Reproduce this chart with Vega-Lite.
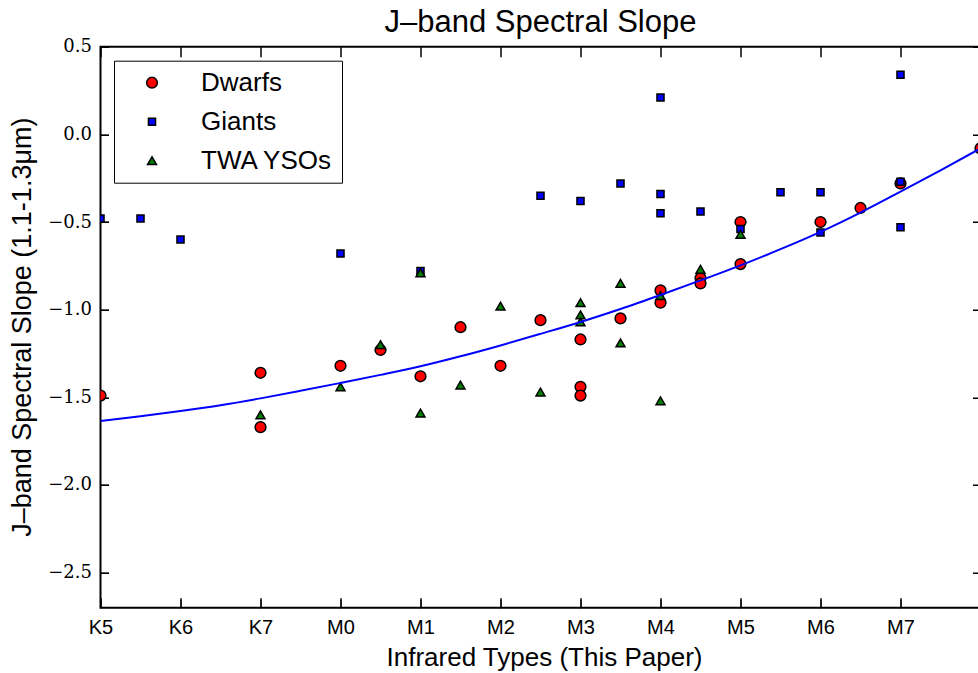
{
  "$schema": "https://vega.github.io/schema/vega-lite/v6.json",
  "width": 880,
  "height": 561,
  "autosize": "none",
  "padding": {"left": 100.5, "top": 46.7, "right": 0, "bottom": 65.3},
  "background": "white",
  "config": {
    "view": {"stroke": "#000", "strokeWidth": 2},
    "font": "Liberation Sans",
    "axis": {"domain": false, "tickColor": "#000", "tickWidth": 1, "grid": true, "gridColor": "#000", "gridWidth": 1.5, "gridOpacity": 1}
  },
  "title": {"text": "J–band Spectral Slope", "fontSize": 31, "font": "Liberation Sans", "fontWeight": "normal", "offset": 5, "dy": 6, "color": "#000"},
  "datasets": {
    "points": [
      {"type": 0, "slope": -1.49, "group": "Dwarfs"},
      {"type": 2, "slope": -1.36, "group": "Dwarfs"},
      {"type": 2, "slope": -1.67, "group": "Dwarfs"},
      {"type": 3, "slope": -1.32, "group": "Dwarfs"},
      {"type": 3.5, "slope": -1.23, "group": "Dwarfs"},
      {"type": 4, "slope": -1.38, "group": "Dwarfs"},
      {"type": 4.5, "slope": -1.1, "group": "Dwarfs"},
      {"type": 5, "slope": -1.32, "group": "Dwarfs"},
      {"type": 5.5, "slope": -1.06, "group": "Dwarfs"},
      {"type": 6, "slope": -1.17, "group": "Dwarfs"},
      {"type": 6, "slope": -1.44, "group": "Dwarfs"},
      {"type": 6, "slope": -1.49, "group": "Dwarfs"},
      {"type": 6.5, "slope": -1.05, "group": "Dwarfs"},
      {"type": 7, "slope": -0.89, "group": "Dwarfs"},
      {"type": 7, "slope": -0.96, "group": "Dwarfs"},
      {"type": 7.5, "slope": -0.82, "group": "Dwarfs"},
      {"type": 7.5, "slope": -0.85, "group": "Dwarfs"},
      {"type": 8, "slope": -0.5, "group": "Dwarfs"},
      {"type": 8, "slope": -0.74, "group": "Dwarfs"},
      {"type": 9, "slope": -0.5, "group": "Dwarfs"},
      {"type": 9.5, "slope": -0.42, "group": "Dwarfs"},
      {"type": 10, "slope": -0.28, "group": "Dwarfs"},
      {"type": 11, "slope": -0.08, "group": "Dwarfs"},
      {"type": 0, "slope": -0.48, "group": "Giants"},
      {"type": 0.5, "slope": -0.48, "group": "Giants"},
      {"type": 1, "slope": -0.6, "group": "Giants"},
      {"type": 3, "slope": -0.68, "group": "Giants"},
      {"type": 4, "slope": -0.78, "group": "Giants"},
      {"type": 5.5, "slope": -0.35, "group": "Giants"},
      {"type": 6, "slope": -0.38, "group": "Giants"},
      {"type": 6.5, "slope": -0.28, "group": "Giants"},
      {"type": 7, "slope": 0.21, "group": "Giants"},
      {"type": 7, "slope": -0.34, "group": "Giants"},
      {"type": 7, "slope": -0.45, "group": "Giants"},
      {"type": 7.5, "slope": -0.44, "group": "Giants"},
      {"type": 8, "slope": -0.54, "group": "Giants"},
      {"type": 8.5, "slope": -0.33, "group": "Giants"},
      {"type": 9, "slope": -0.33, "group": "Giants"},
      {"type": 9, "slope": -0.56, "group": "Giants"},
      {"type": 10, "slope": 0.34, "group": "Giants"},
      {"type": 10, "slope": -0.27, "group": "Giants"},
      {"type": 10, "slope": -0.53, "group": "Giants"},
      {"type": 2, "slope": -1.6, "group": "TWA YSOs"},
      {"type": 3, "slope": -1.44, "group": "TWA YSOs"},
      {"type": 3.5, "slope": -1.2, "group": "TWA YSOs"},
      {"type": 4, "slope": -0.79, "group": "TWA YSOs"},
      {"type": 4, "slope": -1.59, "group": "TWA YSOs"},
      {"type": 4.5, "slope": -1.43, "group": "TWA YSOs"},
      {"type": 5, "slope": -0.98, "group": "TWA YSOs"},
      {"type": 5.5, "slope": -1.47, "group": "TWA YSOs"},
      {"type": 6, "slope": -0.96, "group": "TWA YSOs"},
      {"type": 6, "slope": -1.03, "group": "TWA YSOs"},
      {"type": 6, "slope": -1.07, "group": "TWA YSOs"},
      {"type": 6.5, "slope": -0.85, "group": "TWA YSOs"},
      {"type": 6.5, "slope": -1.19, "group": "TWA YSOs"},
      {"type": 7, "slope": -0.92, "group": "TWA YSOs"},
      {"type": 7, "slope": -1.52, "group": "TWA YSOs"},
      {"type": 7.5, "slope": -0.77, "group": "TWA YSOs"},
      {"type": 8, "slope": -0.57, "group": "TWA YSOs"}
    ],
    "fit": [
      {"type": 0, "slope": -1.635}, {"type": 0.5, "slope": -1.608}, {"type": 1, "slope": -1.578},
      {"type": 1.5, "slope": -1.545}, {"type": 2, "slope": -1.506}, {"type": 2.5, "slope": -1.463},
      {"type": 3, "slope": -1.418}, {"type": 3.5, "slope": -1.372}, {"type": 4, "slope": -1.323},
      {"type": 4.5, "slope": -1.266}, {"type": 5, "slope": -1.204}, {"type": 5.5, "slope": -1.138},
      {"type": 6, "slope": -1.07}, {"type": 6.5, "slope": -0.996}, {"type": 7, "slope": -0.916},
      {"type": 7.5, "slope": -0.833}, {"type": 8, "slope": -0.747}, {"type": 8.5, "slope": -0.655},
      {"type": 9, "slope": -0.556}, {"type": 9.5, "slope": -0.446}, {"type": 10, "slope": -0.327},
      {"type": 10.5, "slope": -0.205}, {"type": 11, "slope": -0.08}
    ]
  },
  "layer": [
    {
      "data": {"name": "points"},
      "mark": {"type": "point", "filled": true, "stroke": "#000", "strokeWidth": 1.5, "opacity": 1, "clip": true},
      "encoding": {
        "x": {
          "field": "type", "type": "quantitative",
          "scale": {"domain": [0, 11], "nice": false, "zero": false},
          "axis": {
            "orient": "bottom", "values": [0, 1, 2, 3, 4, 5, 6, 7, 8, 9, 10],
            "labelExpr": "['K5','K6','K7','M0','M1','M2','M3','M4','M5','M6','M7'][datum.value]",
            "labelFlush": false,
            "tickSize": -8, "labelPadding": 18, "labelFontSize": 20, "labelFont": "Liberation Sans", "labelColor": "#000",
            "gridDash": [10, 541],
            "title": "Infrared Types (This Paper)", "titleFontSize": 26, "titleFontWeight": "normal", "titleColor": "#000",
            "titleX": 443.5, "titleY": 58, "titleAlign": "center", "titleBaseline": "alphabetic"
          }
        },
        "y": {
          "field": "slope", "type": "quantitative",
          "scale": {"domain": [-2.7, 0.5], "nice": false, "zero": false},
          "axis": {
            "orient": "left", "values": [-2.5, -2, -1.5, -1, -0.5, 0, 0.5], "format": ".1f",
            "labelFlush": false,
            "tickSize": -8, "labelPadding": 17, "labelFontSize": 18, "labelFont": "DejaVu Serif", "labelColor": "#000",
            "gridDash": [8, 864],
            "title": "J–band Spectral Slope (1.1-1.3μm)", "titleFontSize": 27, "titleFontWeight": "normal", "titleColor": "#000",
            "titleX": -78, "titleY": 280, "titleAlign": "center", "titleBaseline": "middle", "titleAngle": -90
          }
        },
        "color": {
          "field": "group", "type": "nominal",
          "scale": {"domain": ["Dwarfs", "Giants", "TWA YSOs"], "range": ["#ff0000", "#0000ff", "#008000"]},
          "legend": {
            "title": null, "orient": "none", "legendX": 13.5, "legendY": 14,
            "strokeColor": "#000", "fillColor": "#fff", "padding": 9,
            "labelFontSize": 26, "labelFont": "Liberation Sans", "labelColor": "#000",
            "rowPadding": 13, "symbolOffset": 16, "labelOffset": 36,
            "symbolStrokeColor": "#000", "symbolStrokeWidth": 1.5
          }
        },
        "shape": {
          "field": "group", "type": "nominal",
          "scale": {"domain": ["Dwarfs", "Giants", "TWA YSOs"], "range": ["circle", "square", "triangle-up"]},
          "legend": {
            "title": null, "orient": "none", "legendX": 13.5, "legendY": 14,
            "strokeColor": "#000", "fillColor": "#fff", "padding": 9,
            "labelFontSize": 26, "labelFont": "Liberation Sans", "labelColor": "#000",
            "rowPadding": 13, "symbolOffset": 16, "labelOffset": 36,
            "symbolStrokeColor": "#000", "symbolStrokeWidth": 1.5
          }
        },
        "size": {
          "field": "group", "type": "nominal",
          "scale": {"type": "ordinal", "domain": ["Dwarfs", "Giants", "TWA YSOs"], "range": [115, 50, 80]},
          "legend": {
            "title": null, "orient": "none", "legendX": 13.5, "legendY": 14,
            "strokeColor": "#000", "fillColor": "#fff", "padding": 9,
            "labelFontSize": 26, "labelFont": "Liberation Sans", "labelColor": "#000",
            "rowPadding": 13, "symbolOffset": 16, "labelOffset": 36,
            "symbolStrokeColor": "#000", "symbolStrokeWidth": 1.5
          }
        }
      }
    },
    {
      "data": {"name": "fit"},
      "mark": {"type": "line", "color": "#0000ff", "strokeWidth": 2, "clip": true, "interpolate": "monotone"},
      "encoding": {
        "x": {"field": "type", "type": "quantitative"},
        "y": {"field": "slope", "type": "quantitative"}
      }
    }
  ]
}
